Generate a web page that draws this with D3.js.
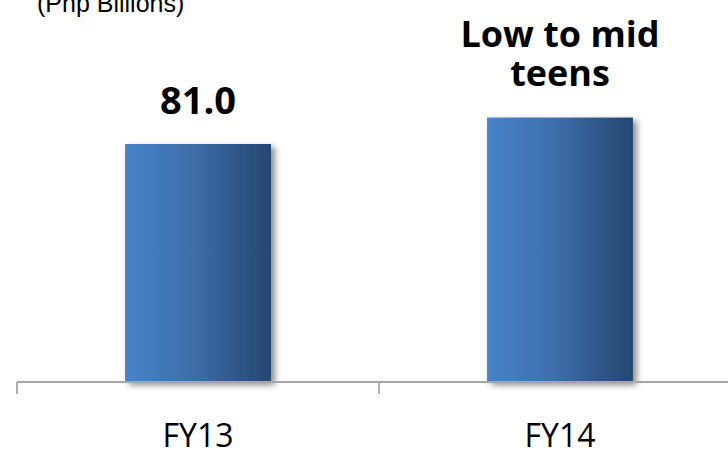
<!DOCTYPE html>
<html>
<head>
<meta charset="utf-8">
<script src="https://cdn.jsdelivr.net/npm/d3@7"></script>
<style>
  html, body { margin: 0; padding: 0; background: #fff; }
  svg { display: block; }
</style>
</head>
<body>
<svg id="chart" width="728" height="454"></svg>
<script>
// Revenue outlook, FY13 actual vs FY14 guidance
const categories = ["FY13", "FY14"];
const values = [81.0, 90.0];
const valueLabels = [["81.0"], ["Low to mid", "teens"]];
const unitLabel = "(Php Billions)";

const svg = d3.select("#chart");
const W = 728, H = 454;
const baseY = 382;

const x = d3.scaleBand()
  .domain(categories)
  .range([17, 741])
  .paddingInner(0.597)
  .paddingOuter(0.2985);

const y = d3.scaleLinear()
  .domain([0, 100])
  .range([baseY, baseY - 238 / 81 * 100]);

const defs = svg.append("defs");
const grad = defs.append("linearGradient")
  .attr("id", "barGrad")
  .attr("x1", "0%").attr("x2", "100%")
  .attr("y1", "0%").attr("y2", "0%");
grad.append("stop").attr("offset", "0%").attr("stop-color", "#4783c8");
grad.append("stop").attr("offset", "45%").attr("stop-color", "#3e6fab");
grad.append("stop").attr("offset", "100%").attr("stop-color", "#254671");

const shadow = defs.append("filter")
  .attr("id", "barShadow")
  .attr("x", "-10%").attr("y", "-10%")
  .attr("width", "130%").attr("height", "130%");
shadow.append("feDropShadow")
  .attr("dx", 4).attr("dy", 3)
  .attr("stdDeviation", 3)
  .attr("flood-color", "#000")
  .attr("flood-opacity", 0.45);

// unit caption, partly above the top edge
svg.append("text")
  .attr("x", 37).attr("y", 12)
  .attr("font-family", "Liberation Sans, Arial, sans-serif")
  .attr("font-size", 25)
  .attr("fill", "#000")
  .text(unitLabel);

// bars
svg.append("g").selectAll("rect")
  .data(values)
  .join("rect")
  .attr("x", (d, i) => x(categories[i]))
  .attr("width", x.bandwidth())
  .attr("y", d => y(d))
  .attr("height", d => y(0) - y(d))
  .attr("fill", "url(#barGrad)")
  .attr("filter", "url(#barShadow)");

// axis line and boundary ticks
const axisColor = "#a6a6a6";
svg.append("line")
  .attr("x1", 17).attr("x2", W)
  .attr("y1", baseY).attr("y2", baseY)
  .attr("stroke", axisColor).attr("stroke-width", 1.8);

const step = x.step();
const bounds = categories.map(c => x(c) - x.paddingOuter() * step);
svg.append("g").selectAll("line")
  .data(bounds)
  .join("line")
  .attr("x1", d => d).attr("x2", d => d)
  .attr("y1", baseY).attr("y2", baseY + 12)
  .attr("stroke", axisColor).attr("stroke-width", 1.8);

// category labels
const xAxis = d3.axisBottom(x).tickSize(0).tickPadding(0);
const gx = svg.append("g")
  .attr("transform", `translate(0,${baseY})`)
  .call(xAxis);
gx.select(".domain").remove();
gx.selectAll("text")
  .attr("dy", 0)
  .attr("y", 65)
  .attr("font-family", "Open Sans, sans-serif")
  .attr("font-size", 32)
  .attr("fill", "#000");

// value labels above the bars
const lineGap = 39;
svg.append("g").selectAll("text")
  .data(values)
  .join("text")
  .attr("text-anchor", "middle")
  .attr("font-family", "Open Sans, sans-serif")
  .attr("font-weight", "bold")
  .attr("font-size", (d, i) => valueLabels[i].length > 1 ? 36 : 38)
  .attr("fill", "#000")
  .each(function (d, i) {
    const lines = valueLabels[i];
    const cx = x(categories[i]) + x.bandwidth() / 2;
    const last = y(d) - (lines.length > 1 ? 32 : 30);
    d3.select(this).selectAll("tspan")
      .data(lines)
      .join("tspan")
      .attr("x", cx)
      .attr("y", (t, j) => last - (lines.length - 1 - j) * lineGap)
      .text(t => t);
  });
</script>
</body>
</html>
